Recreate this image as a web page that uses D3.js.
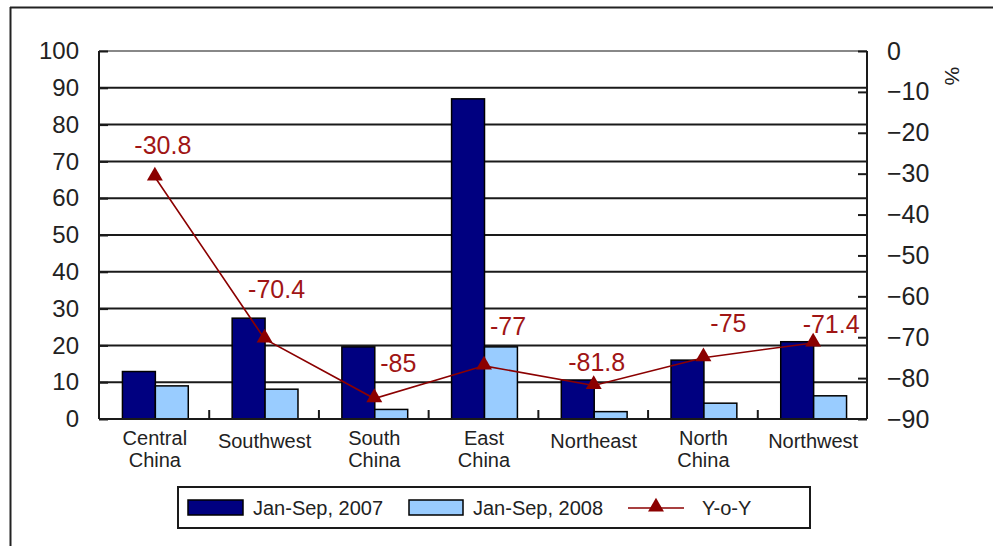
<!DOCTYPE html>
<html>
<head>
<meta charset="utf-8">
<script src="https://cdn.jsdelivr.net/npm/d3@7"></script>
<style>
  html, body { margin: 0; padding: 0; background: #fff; }
  svg { display: block; font-family: "Liberation Sans", Arial, sans-serif; }
</style>
</head>
<body>
<svg id="chart" width="993" height="546"></svg>
<script>
// ---- data ----
const categories = ["Central\nChina", "Southwest", "South\nChina", "East\nChina", "Northeast", "North\nChina", "Northwest"];
const values2007 = [12.9, 27.4, 19.6, 87.0, 10.6, 16.0, 21.0];
const values2008 = [9.0, 8.1, 2.6, 19.6, 2.0, 4.3, 6.3];
const yoy = [-30.8, -70.4, -85, -77, -81.8, -75, -71.4];
const seriesNames = ["Jan-Sep, 2007", "Jan-Sep, 2008", "Y-o-Y"];
const leftTicks = [0, 10, 20, 30, 40, 50, 60, 70, 80, 90, 100];
const rightTicks = [0, -10, -20, -30, -40, -50, -60, -70, -80, -90];
// label placement offsets (px) for the Y-o-Y data labels
const labelDx = [8, 12, 24, 24, 3, 25, 18];
const labelDy = [-32, -50, -36, -40, -23, -35, -19];

// ---- layout ----
const svg = d3.select("#chart");
const plot = { left: 99, right: 867, top: 51, bottom: 419 };
const C_DARK = "#000080", C_LIGHT = "#99CCFF", C_LINE = "#8B0000", C_LABEL = "#A01515";

// outer frame (top and left edges visible)
svg.append("line").attr("x1", 10).attr("x2", 993).attr("y1", 7.5).attr("y2", 7.5)
  .attr("stroke", "#222").attr("stroke-width", 2);
svg.append("line").attr("x1", 10.5).attr("x2", 10.5).attr("y1", 7).attr("y2", 546)
  .attr("stroke", "#222").attr("stroke-width", 2);

const x0 = d3.scaleBand().domain(d3.range(categories.length))
  .range([plot.left, plot.right]).paddingInner(0.4).paddingOuter(0.2);
const x1 = d3.scaleBand().domain([0, 1]).range([0, x0.bandwidth()]);
const yL = d3.scaleLinear().domain([0, 100]).range([plot.bottom, plot.top]);
const yR = d3.scaleLinear().domain([-90, 0]).range([plot.bottom, plot.top]);
const step = x0.step();

// gridlines
svg.append("g").selectAll("line").data(leftTicks.filter(d => d > 0)).join("line")
  .attr("x1", plot.left).attr("x2", plot.right)
  .attr("y1", d => yL(d)).attr("y2", d => yL(d))
  .attr("stroke", d => d === 100 ? "#888" : "#1a1a1a").attr("stroke-width", 2);

// bars
const groups = svg.append("g").selectAll("g").data(categories).join("g")
  .attr("transform", (d, i) => `translate(${x0(i) + 1.5},0)`);
groups.append("rect")
  .attr("x", 0).attr("width", x1.bandwidth())
  .attr("y", (d, i) => yL(values2007[i])).attr("height", (d, i) => yL(0) - yL(values2007[i]))
  .attr("fill", C_DARK).attr("stroke", "#000").attr("stroke-width", 1.5);
groups.append("rect")
  .attr("x", x1(1)).attr("width", x1.bandwidth())
  .attr("y", (d, i) => yL(values2008[i])).attr("height", (d, i) => yL(0) - yL(values2008[i]))
  .attr("fill", C_LIGHT).attr("stroke", "#000").attr("stroke-width", 1.5);

// axes
const axisL = svg.append("g").attr("transform", `translate(${plot.left},0)`)
  .call(d3.axisLeft(yL).tickValues(leftTicks).tickSize(-9).tickPadding(20).tickFormat(d3.format("d")));
const axisR = svg.append("g").attr("transform", `translate(${plot.right},0)`)
  .call(d3.axisRight(yR).tickValues(rightTicks).tickSize(-9).tickPadding(20).tickFormat(d3.format("d")));
const boundaries = d3.range(1, categories.length).map(i => x0(i) - step * 0.2);
const axisB = svg.append("g").attr("transform", `translate(0,${plot.bottom})`)
  .call(d3.axisBottom(d3.scaleLinear().domain([plot.left, plot.right]).range([plot.left, plot.right]))
    .tickValues(boundaries).tickSize(-9).tickFormat(""));
[axisL, axisR, axisB].forEach(a => {
  a.select(".domain").attr("stroke", "#1a1a1a").attr("stroke-width", 2);
  a.selectAll(".tick line").attr("stroke", "#1a1a1a").attr("stroke-width", 2);
});
axisL.selectAll(".tick text").attr("font-size", 24).attr("fill", "#222");
axisR.selectAll(".tick text").attr("font-size", 25).attr("fill", "#222");
axisL.select(".domain").attr("d", `M0,${plot.bottom}V${plot.top}`);
axisR.select(".domain").attr("d", `M0,${plot.bottom}V${plot.top}`);
axisB.select(".domain").attr("d", `M${plot.left},0H${plot.right}`);

// % unit label
svg.append("text").attr("transform", "translate(952,76) rotate(90)")
  .attr("text-anchor", "middle").attr("dominant-baseline", "central")
  .attr("font-size", 21).attr("fill", "#222").text("%");

// category labels
const catG = svg.append("g");
categories.forEach((c, i) => {
  const lines = c.split("\n");
  const cx = x0(i) + x0.bandwidth() / 2 + 1;
  const t = catG.append("text").attr("x", cx).attr("text-anchor", "middle")
    .attr("font-size", 20).attr("fill", "#222");
  if (lines.length === 1) {
    t.append("tspan").attr("x", cx).attr("y", 448).text(lines[0]);
  } else {
    lines.forEach((l, k) => t.append("tspan").attr("x", cx).attr("y", 445 + k * 22).text(l));
  }
});

// Y-o-Y line
const cxOf = i => x0(i) + x0.bandwidth() / 2 + 1;
svg.append("path").datum(yoy)
  .attr("d", d3.line().x((d, i) => cxOf(i)).y(d => yR(d)))
  .attr("fill", "none").attr("stroke", C_LINE).attr("stroke-width", 1.6);
const tri = d3.symbol().type(d3.symbolTriangle).size(110);
svg.append("g").selectAll("path").data(yoy).join("path")
  .attr("d", tri).attr("transform", (d, i) => `translate(${cxOf(i)},${yR(d) - 1})`)
  .attr("fill", C_LINE);
svg.append("g").selectAll("text").data(yoy).join("text")
  .attr("x", (d, i) => cxOf(i) + labelDx[i]).attr("y", (d, i) => yR(d) + labelDy[i])
  .attr("text-anchor", "middle").attr("dominant-baseline", "central")
  .attr("font-size", 25).attr("fill", C_LABEL).text(d => d);

// legend
const lg = svg.append("g");
lg.append("rect").attr("x", 178).attr("y", 487).attr("width", 632).attr("height", 41)
  .attr("fill", "#fff").attr("stroke", "#1a1a1a").attr("stroke-width", 2);
lg.append("rect").attr("x", 188).attr("y", 500).attr("width", 55).attr("height", 15)
  .attr("fill", C_DARK).attr("stroke", "#000").attr("stroke-width", 1.5);
lg.append("text").attr("x", 253).attr("y", 508).attr("dominant-baseline", "central")
  .attr("font-size", 20).attr("fill", "#222").text(seriesNames[0]);
lg.append("rect").attr("x", 409).attr("y", 500).attr("width", 54).attr("height", 15)
  .attr("fill", C_LIGHT).attr("stroke", "#000").attr("stroke-width", 1.5);
lg.append("text").attr("x", 473).attr("y", 508).attr("dominant-baseline", "central")
  .attr("font-size", 20).attr("fill", "#222").text(seriesNames[1]);
lg.append("line").attr("x1", 628).attr("x2", 684).attr("y1", 508).attr("y2", 508)
  .attr("stroke", C_LINE).attr("stroke-width", 1.6);
lg.append("path").attr("d", tri).attr("transform", "translate(656,507)").attr("fill", C_LINE);
lg.append("text").attr("x", 702).attr("y", 508).attr("dominant-baseline", "central")
  .attr("font-size", 20).attr("fill", "#222").text(seriesNames[2]);
</script>
</body>
</html>
